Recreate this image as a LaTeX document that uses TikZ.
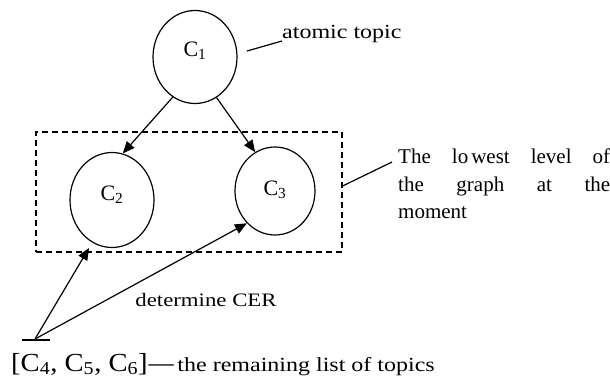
\documentclass[tikz,border=0pt]{standalone}
\usepackage{fontspec}
\setmainfont{Liberation Serif}
\usetikzlibrary{shapes.geometric,arrows.meta}
\tikzset{
  topic/.style={draw, ellipse, line width=1.2pt, inner sep=0pt, font=\fontsize{22}{24}\selectfont},
  conn/.style={line width=1.2pt},
  arr/.style={line width=1.2pt, -{Triangle[length=12pt,width=10pt]}},
  lbl/.style={inner sep=0pt, font=\fontsize{19}{22}\selectfont},
}
\newcommand{\wide}[2][1.2]{\scalebox{#1}[1]{#2}}
\newcommand{\lift}[2]{\raisebox{#1}[0pt][0pt]{#2}}
\begin{document}
\begin{tikzpicture}[x=1pt,y=-1pt]
\useasboundingbox (0,0) rectangle (610,378);
\node[topic, minimum width=84pt, minimum height=93pt] (c1) at (195,57) {\lift{1pt}{C\textsubscript{1}}};
\node[topic, minimum width=84pt, minimum height=95pt] (c2) at (112,200) {\lift{0pt}{C\textsubscript{2}}};
\node[topic, minimum width=80pt, minimum height=88pt] (c3) at (275,191) {\lift{-4pt}{C\textsubscript{3}}};
\node[draw, dashed, dash pattern=on 6pt off 4pt, line width=1.2pt, minimum width=306pt, minimum height=120pt, inner sep=0pt] (box) at (189,192) {};
\node[lbl, anchor=west, font=\fontsize{20}{22}\selectfont] (atomic) at (282,34) {\wide{atomic topic}};
\coordinate (a1) at (247,51);
\draw[conn] (a1) -- (atomic.west |- 0,41);
\node[lbl, anchor=north west, align=left, font=\fontsize{21}{27.5}\selectfont] (lowest) at (398,149)
  {\makebox[212pt][s]{The lo\hspace{3pt}west level of}\\\makebox[212pt][s]{the graph at the}\\moment};
\draw[conn] (box.east |- 0,186) -- (392,162);
\draw[arr] (c1.241) -- (c2.77);
\draw[arr] (c1.298) -- (c3.117);
\node[lbl] (cer) at (206,300) {\wide{determine CER}};
\coordinate (src) at (35,339);
\coordinate (t2) at (89,248);
\draw[conn] (22,340) -- (50,340);
\draw[arr] (src) -- (t2);
\draw[arr] (src) -- (c3.229);
\node[lbl, anchor=base west] (list) at (11,371)
  {{\fontsize{26}{28}\selectfont\wide[1.1]{[C\textsubscript{4}, C\textsubscript{5}, C\textsubscript{6}]}\hspace{1pt}\wide[1.9]{–}}\hspace{4pt}{\fontsize{20}{22}\selectfont\wide[1.2]{the remaining list of topics}}};
\end{tikzpicture}
\end{document}
